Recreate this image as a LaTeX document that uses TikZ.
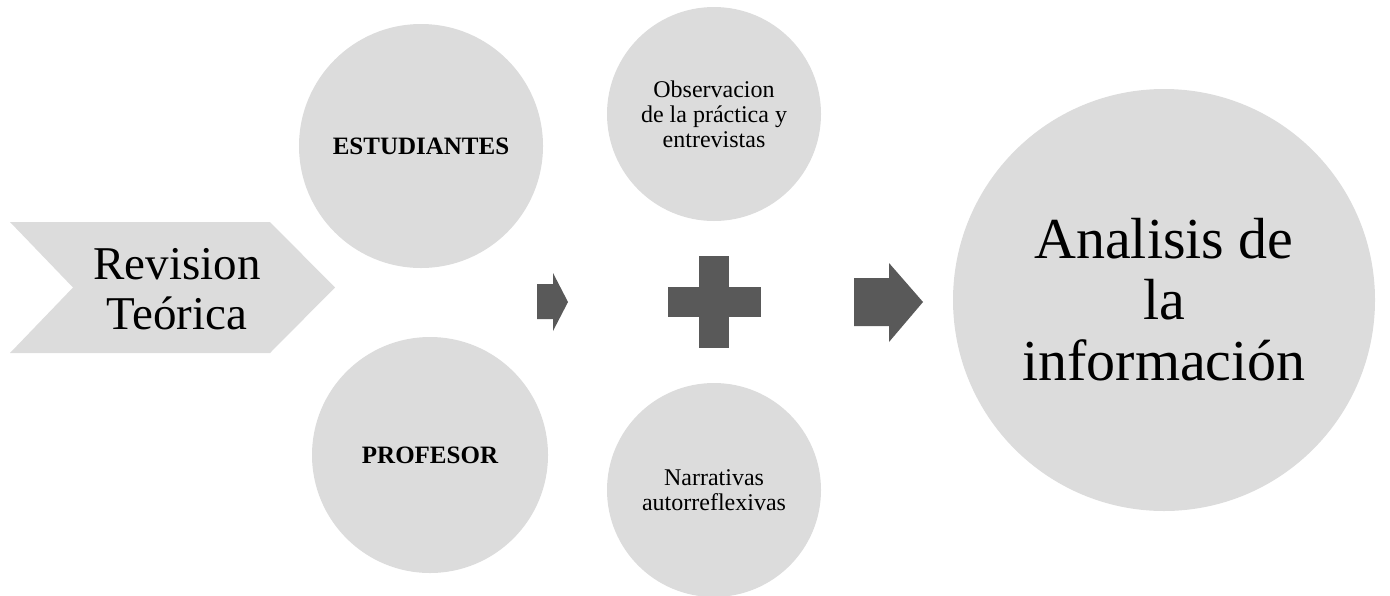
\documentclass[tikz,border=0pt]{standalone}
\usepackage{fontspec}
\setmainfont{Liberation Serif}
\definecolor{bubblegray}{HTML}{DCDCDC}
\definecolor{arrowgray}{HTML}{595959}
\tikzset{
	bubble/.style={circle, fill=bubblegray, inner sep=0pt, align=center, text=black},
	bubbletext/.style={font=\fontsize{12}{12.5}\selectfont},
	bubblebold/.style={font=\fontsize{12.5}{15}\selectfont\bfseries},
	darkshape/.style={fill=arrowgray}
}

\begin{document}
\begin{tikzpicture}[x=0.5pt, y=-0.5pt]
		%%%%% START %%%%%
		\useasboundingbox (0, 0) rectangle (1390, 595);
		
		% chevron
		\fill[bubblegray] (10, 222) -- (270, 222) -- (335, 287.5) -- (270, 353) -- (10, 353) -- (73, 287.5) -- cycle;
		\node[align=center, font=\fontsize{23.5}{25}\selectfont] (revision) at (177, 289) {Revision\\Teórica};
		
		\node[bubble, bubblebold, minimum size=122pt] (estudiantes) at (421, 146) {ESTUDIANTES};
		\node[bubble, bubblebold, minimum size=118pt] (profesor) at (430, 455) {PROFESOR};
		
		\fill[darkshape] (537, 284) -- (553, 284) -- (553, 273) -- (568, 302) -- (553, 331) -- (553, 319) -- (537, 319) -- cycle;
		
		\node[bubble, bubbletext, minimum size=107pt] (observacion) at (714, 114) {Observacion\\de la práctica y\\entrevistas};
		\node[bubble, bubbletext, minimum size=107pt] (narrativas) at (714, 490) {Narrativas\\autorreflexivas};
		
		% plus
		\fill[darkshape] (699, 256) rectangle (729, 348);
		\fill[darkshape] (668, 287) rectangle (761, 317);
		
		\fill[darkshape] (854, 278) -- (889, 278) -- (889, 263) -- (923, 302) -- (889, 342) -- (889, 326) -- (854, 326) -- cycle;
		
		\node[bubble, font=\fontsize{29}{30.5}\selectfont, minimum size=211pt] (analisis) at (1164, 300) {Analisis de\\la\\información};
		
		%%%%% END %%%%%
	\end{tikzpicture}
\end{document}
